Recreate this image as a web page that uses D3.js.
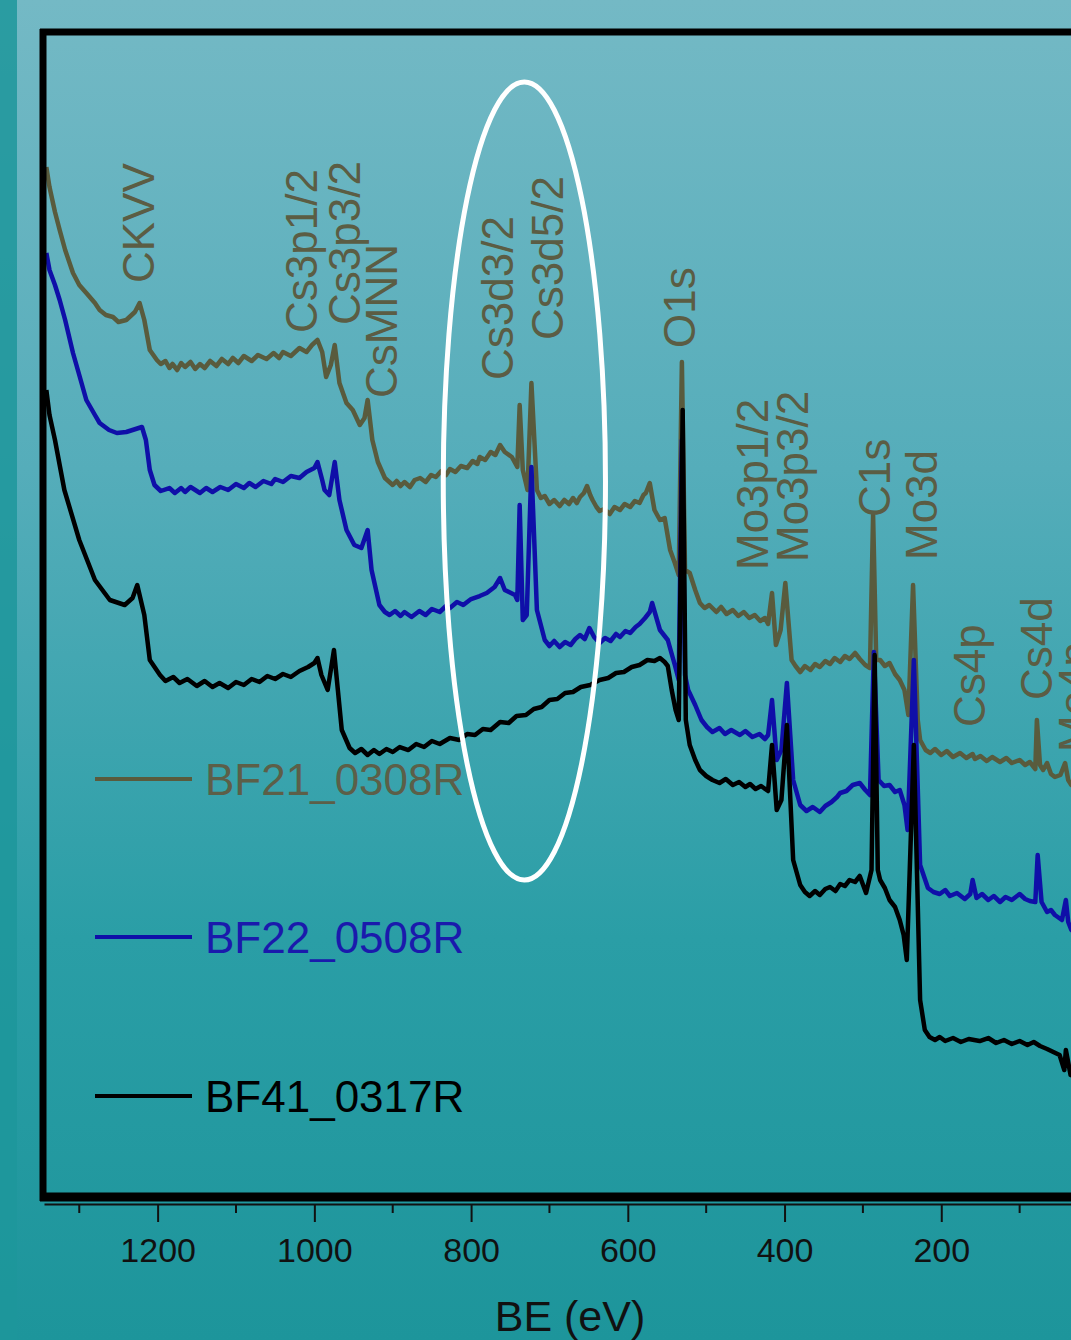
<!DOCTYPE html>
<html>
<head>
<meta charset="utf-8">
<script src="https://cdn.jsdelivr.net/npm/d3@7"></script>
<style>
  body { margin: 0; padding: 0; overflow: hidden; }
  svg { display: block; }
</style>
</head>
<body>
<svg></svg>
<script>
// spectra: [binding energy (eV), intensity (a.u.)]
var bf21 = [
  [1342,1023],[1338,1003],[1331,978],[1325,960],[1318,940],[1308,917],[1300,905],[1291,897],
  [1280,887],[1274,880],[1266,875],[1257,873],[1250,868],[1240,870],[1229,878],[1223,887],
  [1217,870],[1210,840],[1201,830],[1196,826],[1190,829],[1185,822],[1181,826],[1175,820],
  [1170,827],[1165,823],[1158,828],[1152,821],[1146,826],[1140,822],[1133,829],[1125,824],
  [1118,831],[1110,826],[1104,832],[1097,827],[1090,834],[1080,829],[1072,835],[1061,831],
  [1052,837],[1045,832],[1040,838],[1030,834],[1019,842],[1010,838],[1003,845],[996,850],
  [990,838],[985,813],[979,825],[974,845],[968,807],[959,787],[951,780],[942,765],[936,772],
  [932,790],[926,750],[919,728],[910,712],[900,705],[895,709],[890,704],[885,708],[878,703],
  [872,710],[865,712],[858,708],[851,715],[845,713],[838,719],[832,715],[827,721],[820,718],
  [813,724],[805,722],[798,729],[792,726],[789,733],[782,730],[775,738],[769,735],[763,745],
  [757,738],[748,733],[741,723],[738,785],[734,720],[728,700],[723,807],[716,700],[711,692],
  [706,694],[700,686],[694,690],[687,684],[681,690],[675,686],[670,692],[665,687],[661,693],
  [656,697],[652,704],[648,695],[645,690],[640,683],[636,679],[630,681],[623,676],[617,683],
  [610,680],[604,686],[597,683],[591,689],[585,687],[580,695],[577,697],[572,707],[566,680],
  [559,670],[553,672],[546,640],[540,627],[535,615],[531,828],[527,620],[521,617],[514,600],
  [508,587],[502,582],[496,585],[487,578],[481,583],[474,576],[466,580],[459,574],[452,578],
  [445,572],[438,575],[431,569],[425,572],[421,566],[416,597],[411,545],[405,560],[399,607],
  [391,530],[386,524],[380,518],[374,524],[367,520],[361,526],[355,523],[348,529],[342,526],
  [336,532],[329,528],[323,534],[317,531],[310,537],[304,531],[297,525],[291,522],[287,675],
  [283,530],[278,530],[272,524],[266,527],[259,516],[253,510],[247,500],[242,475],[236,605],
  [230,470],[227,450],[220,440],[214,437],[208,441],[200,435],[193,439],[185,433],[176,437],
  [168,432],[160,436],[157,431],[150,434],[142,429],[135,433],[125,428],[117,432],[110,427],
  [100,430],[93,425],[87,428],[80,421],[78,470],[74,425],[70,420],[65,427],[60,416],[55,413],
  [48,415],[42,427],[38,410],[34,405],[25,400]
];

var bf22 = [
  [1342,937],[1338,920],[1331,905],[1325,890],[1318,870],[1308,837],[1300,815],[1291,790],
  [1280,775],[1274,767],[1262,760],[1252,757],[1240,758],[1232,760],[1220,763],[1215,750],
  [1210,720],[1204,705],[1196,699],[1185,702],[1178,697],[1170,702],[1165,698],[1158,703],
  [1146,697],[1138,702],[1130,698],[1120,703],[1110,700],[1100,706],[1090,702],[1083,707],
  [1075,703],[1065,709],[1055,706],[1050,711],[1040,708],[1030,714],[1019,712],[1010,718],
  [1000,722],[996,728],[990,710],[987,700],[981,695],[974,728],[968,690],[959,660],[949,645],
  [940,642],[932,660],[927,620],[917,585],[910,578],[904,575],[897,579],[890,574],[885,578],
  [876,573],[866,579],[858,575],[850,581],[840,578],[832,584],[827,582],[818,588],[810,585],
  [800,591],[789,594],[780,597],[770,603],[763,612],[757,600],[744,595],[741,590],[738,685],
  [734,570],[729,575],[723,723],[716,580],[706,550],[700,544],[694,549],[687,543],[680,548],
  [673,545],[667,551],[661,555],[655,551],[649,562],[643,553],[636,547],[629,552],[622,549],
  [615,556],[610,553],[603,559],[597,557],[590,563],[585,566],[578,572],[572,578],[569,587],
  [559,560],[549,550],[540,525],[535,510],[531,750],[527,515],[523,500],[514,485],[506,470],
  [499,463],[492,458],[483,462],[476,456],[468,460],[457,455],[450,459],[441,453],[432,456],
  [425,451],[421,455],[416,490],[410,430],[404,440],[397,507],[389,410],[380,385],[372,379],
  [364,383],[355,378],[348,384],[340,388],[333,393],[329,397],[321,399],[313,405],[304,407],
  [297,400],[291,395],[286,538],[280,410],[273,404],[266,405],[259,398],[253,400],[247,385],
  [243,360],[235,530],[227,325],[217,302],[210,298],[202,296],[195,300],[189,294],[180,297],
  [170,291],[163,296],[160,310],[155,292],[148,296],[140,290],[133,294],[125,288],[118,293],
  [110,290],[100,296],[93,291],[87,289],[80,288],[77,335],[72,288],[65,278],[60,280],[55,275],
  [46,270],[41,290],[38,268],[34,260],[25,255]
];

var bf41 = [
  [1342,800],[1338,775],[1331,750],[1319,700],[1300,650],[1280,610],[1261,590],[1242,585],
  [1232,592],[1226,605],[1217,575],[1210,530],[1197,515],[1190,509],[1180,513],[1172,507],
  [1162,511],[1150,504],[1140,509],[1130,503],[1121,507],[1110,502],[1100,508],[1090,505],
  [1080,511],[1070,508],[1060,514],[1050,511],[1040,516],[1030,513],[1019,519],[1008,523],
  [1000,527],[996,532],[991,515],[983,500],[975,540],[970,500],[965,460],[955,442],[948,437],
  [940,441],[932,435],[924,440],[917,436],[908,441],[900,438],[891,443],[880,440],[870,446],
  [860,443],[850,449],[840,446],[827,452],[815,450],[805,456],[795,455],[785,461],[775,460],
  [763,468],[752,467],[742,474],[730,475],[720,481],[710,483],[700,490],[690,491],[680,497],
  [670,498],[660,503],[648,505],[636,510],[625,512],[615,517],[605,518],[595,523],[585,525],
  [575,530],[566,529],[559,532],[553,528],[549,524],[544,500],[539,480],[535,470],[530,780],
  [526,470],[521,445],[514,430],[508,420],[500,414],[492,410],[483,407],[475,411],[466,405],
  [458,408],[450,403],[444,406],[437,401],[430,404],[421,399],[416,445],[410,380],[404,390],
  [397,465],[389,330],[380,305],[374,298],[368,294],[361,299],[355,295],[348,301],[342,303],
  [335,299],[329,306],[323,304],[317,310],[310,308],[304,314],[296,297],[289,320],[285,535],
  [281,320],[278,310],[272,302],[266,290],[259,283],[253,270],[248,255],[244,230],[235,445],
  [227,190],[221,160],[215,153],[208,150],[202,153],[195,149],[185,152],[175,148],[165,151],
  [151,149],[140,152],[130,147],[120,150],[110,146],[100,149],[90,145],[82,148],[74,144],
  [65,141],[57,138],[49,135],[43,120],[41,140],[35,115],[25,112]
];

var seriesNames = ["BF21_0308R", "BF22_0508R", "BF41_0317R"];
var seriesColors = ["#595b3d", "#0f0fa8", "#000000"];
var legendTextColors = ["#5c5f48", "#1a1aac", "#000000"];

// peak labels: [text, BE, intensity at the foot of the label]
var peakLabels = [
  ["CKVV",1204,907],["Cs3p1/2",997,857],["Cs3p3/2",942,865],["CsMNN",895,792],
  ["Cs3d3/2",746,810],["Cs3d5/2",683,850],["O1s",514,842],["Mo3p1/2",421,620],
  ["Mo3p3/2",370,628],["C1s",266,673],["Mo3d",206,630],["Cs4p",144,463],
  ["Cs4d",59,490],["Mo4p",10,438]
];

var majorTicks = [1200, 1000, 800, 600, 400, 200];
var minorTicks = [1300, 1100, 900, 700, 500, 300, 100];

var screen = {width:1071, height:1340};

var svg = d3.select("svg")
    .attr("width", screen.width)
    .attr("height", screen.height);

// teal backdrop
var defs = svg.append("defs");
var grad = defs.append("linearGradient")
    .attr("id","bg")
    .attr("x1",0).attr("y1",0).attr("x2",0).attr("y2",1);
grad.append("stop").attr("offset","0%").attr("stop-color","#74b9c5");
grad.append("stop").attr("offset","35%").attr("stop-color","#55adba");
grad.append("stop").attr("offset","70%").attr("stop-color","#2a9ea6");
grad.append("stop").attr("offset","100%").attr("stop-color","#1d959b");

svg.append("rect")
    .attr("width", screen.width)
    .attr("height", screen.height)
    .attr("fill", "url(#bg)");

svg.append("rect")
    .attr("width", 17)
    .attr("height", screen.height)
    .attr("fill", "#1d979b")
    .attr("opacity", 0.85);

var xScale = d3.scaleLinear()
    .domain([1345, 0])
    .range([44, 1098]);

var yScale = d3.scaleLinear()
    .domain([0, 1154])
    .range([1190, 36]);

var lineGenerator = d3.line()
    .x(function(d){ return xScale(d[0]); })
    .y(function(d){ return yScale(d[1]); });

var plot = svg.append("g").attr("id","graph");

plot.selectAll("path.spec")
    .data([bf21, bf22, bf41])
    .enter()
    .append("path")
    .classed("spec", true)
    .attr("d", lineGenerator)
    .attr("fill", "none")
    .attr("stroke", function(d,i){ return seriesColors[i]; })
    .attr("stroke-width", 4.5)
    .attr("stroke-linejoin", "round");

// rotated peak labels
plot.selectAll("text.peak")
    .data(peakLabels)
    .enter()
    .append("text")
    .classed("peak", true)
    .attr("transform", function(d){
        return "translate(" + xScale(d[1]) + "," + yScale(d[2]) + ") rotate(-90)";
    })
    .attr("font-family", "'Liberation Sans', Arial, sans-serif")
    .attr("font-size", 44)
    .attr("fill", "#5b5d44")
    .text(function(d){ return d[0]; });

// legend
var legend = svg.append("g");
var legY = [779, 937, 1096];
seriesNames.forEach(function(name, i){
    legend.append("line")
        .attr("x1", 95).attr("x2", 192)
        .attr("y1", legY[i]).attr("y2", legY[i])
        .attr("stroke", seriesColors[i])
        .attr("stroke-width", 4);
    legend.append("text")
        .attr("x", 205)
        .attr("y", legY[i] + 16)
        .attr("font-family", "'Liberation Sans', Arial, sans-serif")
        .attr("font-size", 44)
        .attr("fill", legendTextColors[i])
        .text(name);
});

// highlight ellipse round the Cs3d doublet
svg.append("ellipse")
    .attr("cx", xScale(732))
    .attr("cy", (yScale(1108) + yScale(310)) / 2)
    .attr("rx", (xScale(629) - xScale(836)) / 2)
    .attr("ry", (yScale(310) - yScale(1108)) / 2)
    .attr("fill", "none")
    .attr("stroke", "#ffffff")
    .attr("stroke-width", 5);

// frame
svg.append("line").attr("x1", 40).attr("x2", 1110).attr("y1", 32).attr("y2", 32)
    .attr("stroke", "#000").attr("stroke-width", 7);
svg.append("line").attr("x1", 43).attr("x2", 43).attr("y1", 29).attr("y2", 1201)
    .attr("stroke", "#000").attr("stroke-width", 7);
svg.append("line").attr("x1", 40).attr("x2", 1110).attr("y1", 1197).attr("y2", 1197)
    .attr("stroke", "#000").attr("stroke-width", 9);

// x axis
var xAxis = d3.axisBottom(xScale)
    .tickValues(majorTicks)
    .tickSize(18)
    .tickSizeOuter(0)
    .tickPadding(16)
    .tickFormat(d3.format("d"));

var axisG = svg.append("g")
    .attr("transform", "translate(0,1204)")
    .call(xAxis);

axisG.select(".domain").attr("stroke", "#111").attr("stroke-width", 2);
axisG.selectAll(".tick line").attr("stroke", "#111").attr("stroke-width", 2);
axisG.selectAll(".tick text")
    .attr("font-family", "'Liberation Sans', Arial, sans-serif")
    .attr("font-size", 34)
    .attr("fill", "#111");

axisG.selectAll("line.minor")
    .data(minorTicks)
    .enter()
    .append("line")
    .classed("minor", true)
    .attr("x1", function(d){ return xScale(d); })
    .attr("x2", function(d){ return xScale(d); })
    .attr("y1", 0).attr("y2", 9)
    .attr("stroke", "#111").attr("stroke-width", 2);

svg.append("text")
    .attr("x", 570)
    .attr("y", 1331)
    .attr("text-anchor", "middle")
    .attr("font-family", "'Liberation Sans', Arial, sans-serif")
    .attr("font-size", 43)
    .attr("fill", "#111")
    .text("BE (eV)");
</script>
</body>
</html>
